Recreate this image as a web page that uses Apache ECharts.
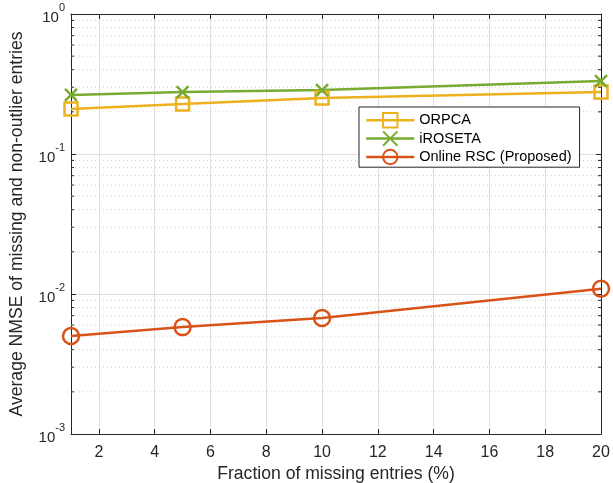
<!DOCTYPE html>
<html>
<head>
<meta charset="utf-8">
<script src="https://cdn.jsdelivr.net/npm/echarts@6/dist/echarts.min.js"></script>
<style>
  html, body { margin: 0; padding: 0; background: #fff; }
  #chart { width: 613px; height: 483px; }
</style>
</head>
<body>
<div id="chart"></div>
<script>
// data
var missing = [1, 5, 10, 20]
var orpca = [0.21, 0.228, 0.251, 0.277]
var iroseta = [0.264, 0.277, 0.286, 0.332]
var onlineRsc = [0.00501, 0.0058, 0.00674, 0.0109]
var xTicks = [2, 4, 6, 8, 10, 12, 14, 16, 18, 20]
var minorY = []
;[0.001, 0.01, 0.1].forEach(function(d) {
  for (var k = 2; k <= 9; k++) minorY.push(+(d * k).toPrecision(3))
})

var font = 'Liberation Sans, Arial, Helvetica, sans-serif'
var axisColor = '#262626'

function pairs(ys) {
  return missing.map(function(x, i) { return [x, ys[i]] })
}

var chart = echarts.init(document.getElementById('chart'))

function supLabel(v) {
  var e = Math.round(Math.log10(v))
  return '{b|10}{s|' + e + '}'
}

var yLabelRich = {
  b: { fontSize: 15, fontFamily: font, color: axisColor, padding: [8, 0, 0, 0] },
  s: { fontSize: 11, fontFamily: font, color: axisColor, verticalAlign: 'top', padding: [0, 0, 8, 0] }
}

chart.setOption({
  animation: false,
  backgroundColor: '#fff',
  grid: { left: 71, right: 12, top: 14, bottom: 49, outerBoundsMode: 'none' },
  legend: {
    orient: 'vertical',
    left: 359,
    top: 107,
    backgroundColor: '#fff',
    borderColor: axisColor,
    borderWidth: 1,
    padding: [5, 8, 2, 6],
    itemWidth: 48,
    itemHeight: 18,
    itemGap: 2,
    lineStyle: { width: 2.5 },
    textStyle: { fontSize: 14.5, fontFamily: font, color: '#000' },
    data: ['ORPCA', 'iROSETA', 'Online RSC (Proposed)']
  },
  xAxis: [{
    type: 'value',
    min: 1,
    max: 20,
    name: 'Fraction of missing entries (%)',
    nameLocation: 'middle',
    nameGap: 31,
    nameMoveOverlap: false,
    nameTextStyle: { fontSize: 17.6, fontFamily: font, color: axisColor },
    axisLine: { lineStyle: { color: axisColor } },
    axisTick: { inside: true, length: 5, customValues: xTicks, lineStyle: { color: axisColor } },
    axisLabel: { customValues: xTicks, fontSize: 16, fontFamily: font, color: axisColor, margin: 11 },
    splitLine: { show: true, lineStyle: { color: '#dfdfdf' } }
  }, {
    type: 'value',
    position: 'top',
    min: 1,
    max: 20,
    axisLine: { show: true, lineStyle: { color: axisColor } },
    axisTick: { show: true, inside: true, length: 5, customValues: xTicks, lineStyle: { color: axisColor } },
    axisLabel: { show: false },
    splitLine: { show: false }
  }],
  yAxis: [{
    type: 'log',
    logBase: 10,
    min: 0.001,
    max: 1,
    name: 'Average NMSE of missing and non-outlier entries',
    nameLocation: 'middle',
    nameGap: 45,
    nameMoveOverlap: false,
    nameTextStyle: { fontSize: 17.6, fontFamily: font, color: axisColor },
    axisLine: { show: true, lineStyle: { color: axisColor } },
    axisTick: { show: true, inside: true, length: 5, lineStyle: { color: axisColor } },
    axisLabel: { formatter: supLabel, rich: yLabelRich, margin: 6 },
    splitLine: { show: true, lineStyle: { color: '#dfdfdf' } }
  }, {
    type: 'log',
    logBase: 10,
    min: 0.001,
    max: 1,
    position: 'right',
    axisLine: { show: true, lineStyle: { color: axisColor } },
    axisTick: { show: true, inside: true, length: 5, lineStyle: { color: axisColor } },
    axisLabel: { show: false },
    splitLine: { show: false }
  }],
  series: [{
    // minor grid and minor ticks of the log axis
    type: 'custom',
    silent: true,
    z: 1,
    data: minorY.map(function(v) { return [1, v] }),
    renderItem: function(params, api) {
      var v = api.value(1)
      var p0 = api.coord([1, v])
      var p1 = api.coord([20, v])
      return {
        type: 'group',
        children: [{
          type: 'line',
          shape: { x1: p0[0], y1: p0[1], x2: p1[0], y2: p1[1] },
          style: { stroke: '#cfcfcf', lineWidth: 1, lineDash: [1, 3] }
        }, {
          type: 'line',
          shape: { x1: p0[0], y1: p0[1], x2: p0[0] + 3, y2: p0[1] },
          style: { stroke: axisColor, lineWidth: 1 }
        }, {
          type: 'line',
          shape: { x1: p1[0], y1: p1[1], x2: p1[0] - 3, y2: p1[1] },
          style: { stroke: axisColor, lineWidth: 1 }
        }]
      }
    }
  }, {
    name: 'ORPCA',
    type: 'line',
    z: 3,
    data: pairs(orpca),
    symbol: 'rect',
    symbolSize: 13,
    lineStyle: { color: '#EDB120', width: 2.5 },
    itemStyle: { color: 'rgba(0,0,0,0)', borderColor: '#EDB120', borderWidth: 2.5 }
  }, {
    name: 'iROSETA',
    type: 'line',
    z: 3,
    data: pairs(iroseta),
    symbol: 'path://M0,0L10,10M10,0L0,10',
    symbolSize: 12,
    lineStyle: { color: '#77AC30', width: 2.5 },
    itemStyle: { color: 'rgba(0,0,0,0)', borderColor: '#77AC30', borderWidth: 2.5 }
  }, {
    name: 'Online RSC (Proposed)',
    type: 'line',
    z: 3,
    data: pairs(onlineRsc),
    symbol: 'circle',
    symbolSize: 16,
    lineStyle: { color: '#D95319', width: 2.5 },
    itemStyle: { color: 'rgba(0,0,0,0)', borderColor: '#D95319', borderWidth: 2.5 }
  }]
})
</script>
</body>
</html>
